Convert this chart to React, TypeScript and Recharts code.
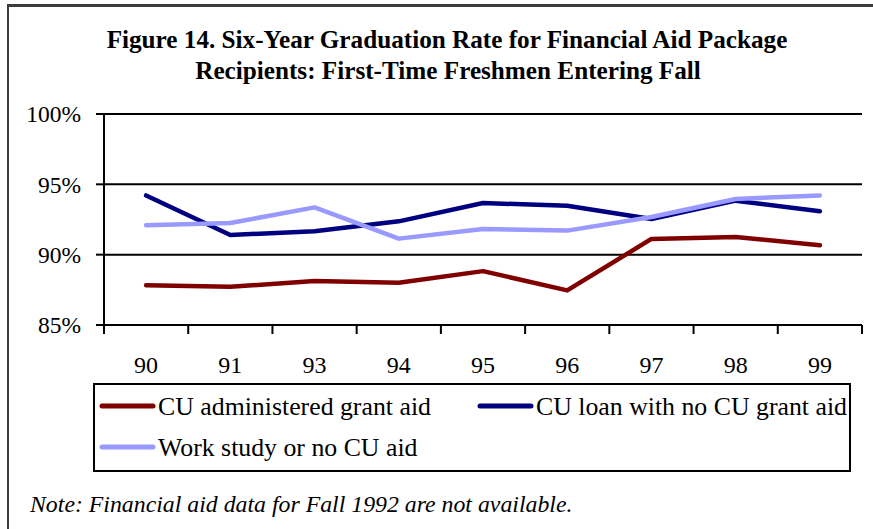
import React from "react";
import { LineChart, Line, XAxis, YAxis, CartesianGrid } from "recharts";

const years = ["90", "91", "93", "94", "95", "96", "97", "98", "99"];
const grantAid = [87.83, 87.72, 88.12, 88.0, 88.83, 87.46, 91.12, 91.26, 90.67];
const loanNoGrant = [94.21, 91.4, 91.66, 92.37, 93.67, 93.48, 92.53, 93.84, 93.08];
const workStudy = [92.09, 92.25, 93.36, 91.14, 91.83, 91.71, 92.68, 93.96, 94.21];
const yTicks = [85, 90, 95, 100];

const series = [
  { key: "grant", name: "CU administered grant aid", color: "#800000" },
  { key: "loan", name: "CU loan with no CU grant aid", color: "#000080" },
  { key: "work", name: "Work study or no CU aid", color: "#9999ff" },
];

const data = years.map((year, i) => ({
  year,
  grant: grantAid[i],
  loan: loanNoGrant[i],
  work: workStudy[i],
}));

const FONT = "Liberation Serif";
const PLOT_LEFT = 104;
const PLOT_RIGHT = 862;
const PLOT_BOTTOM = 325;
const STEP = (PLOT_RIGHT - PLOT_LEFT) / years.length;

function YearTick(props: any) {
  const { x, index } = props;
  const half = STEP / 2;
  return (
    <g>
      <line x1={x - half} x2={x - half} y1={PLOT_BOTTOM} y2={PLOT_BOTTOM + 9} stroke="#000" strokeWidth={2} />
      {index === years.length - 1 && (
        <line x1={x + half} x2={x + half} y1={PLOT_BOTTOM} y2={PLOT_BOTTOM + 9} stroke="#000" strokeWidth={2} />
      )}
      <text x={x} y={373} textAnchor="middle" fontSize={24} fontFamily={FONT} fill="#000">
        {props.payload.value}
      </text>
    </g>
  );
}

function LegendBox() {
  const spots = [
    { lx: 9, tx: 65, y: 23 },
    { lx: 387, tx: 443, y: 23 },
    { lx: 9, tx: 65, y: 64 },
  ];
  return (
    <svg width={758} height={89} style={{ position: "absolute", left: 93, top: 383 }}>
      <rect x={1} y={1} width={756} height={87} fill="#fff" stroke="#000" strokeWidth={2} />
      {series.map((s, i) => {
        const p = spots[i];
        return (
          <g key={s.key}>
            <line x1={p.lx} x2={p.lx + 51} y1={p.y} y2={p.y} stroke={s.color} strokeWidth={5} strokeLinecap="round" />
            <text x={p.tx} y={p.y + 9} fontSize={25.8} fontFamily={FONT} fill="#000">
              {s.name}
            </text>
          </g>
        );
      })}
    </svg>
  );
}

export default function App() {
  return (
    <div
      style={{
        position: "absolute",
        left: 0,
        top: 0,
        width: 873,
        height: 529,
        overflow: "hidden",
        background: "#fff",
        fontFamily: FONT,
      }}
    >
      <div
        style={{
          position: "absolute",
          left: 7,
          top: 4,
          width: 900,
          height: 600,
          borderLeft: "2px solid #3c3c3c",
          borderTop: "3px solid #3c3c3c",
        }}
      />
      <LineChart
        width={873}
        height={529}
        data={data}
        margin={{ top: 114, right: 873 - PLOT_RIGHT, left: PLOT_LEFT - 60, bottom: 529 - PLOT_BOTTOM - 50 }}
        style={{ position: "absolute", left: 0, top: 0 }}
      >
        <CartesianGrid vertical={false} stroke="#000" strokeWidth={2} />
        <XAxis
          dataKey="year"
          height={50}
          padding={{ left: STEP / 2, right: STEP / 2 }}
          tickLine={false}
          axisLine={{ stroke: "#000", strokeWidth: 2 }}
          tick={<YearTick />}
          interval={0}
        />
        <YAxis
          width={60}
          domain={[85, 100]}
          ticks={yTicks}
          tickFormatter={(v) => `${v}%`}
          tickSize={8}
          tickMargin={15}
          tickLine={{ stroke: "#000", strokeWidth: 2 }}
          axisLine={{ stroke: "#000", strokeWidth: 2 }}
          tick={{ fill: "#000", fontSize: 23.5, fontFamily: FONT }}
          allowDataOverflow
        />
        {series.map((s) => (
          <Line
            key={s.key}
            dataKey={s.key}
            name={s.name}
            stroke={s.color}
            strokeWidth={4.5}
            strokeLinecap="round"
            strokeLinejoin="round"
            dot={false}
            isAnimationActive={false}
          />
        ))}
      </LineChart>
      <LegendBox />
      <svg width={873} height={529} style={{ position: "absolute", left: 0, top: 0, pointerEvents: "none" }}>
        <text x={447} y={48} textAnchor="middle" fontSize={25.2} fontWeight="bold" fontFamily={FONT}>
          Figure 14. Six-Year Graduation Rate for Financial Aid Package
        </text>
        <text x={448} y={79} textAnchor="middle" fontSize={25.2} fontWeight="bold" fontFamily={FONT}>
          Recipients: First-Time Freshmen Entering Fall
        </text>
        <text x={30} y={512} fontSize={23.8} fontStyle="italic" fontFamily={FONT}>
          Note: Financial aid data for Fall 1992 are not available.
        </text>
      </svg>
    </div>
  );
}
